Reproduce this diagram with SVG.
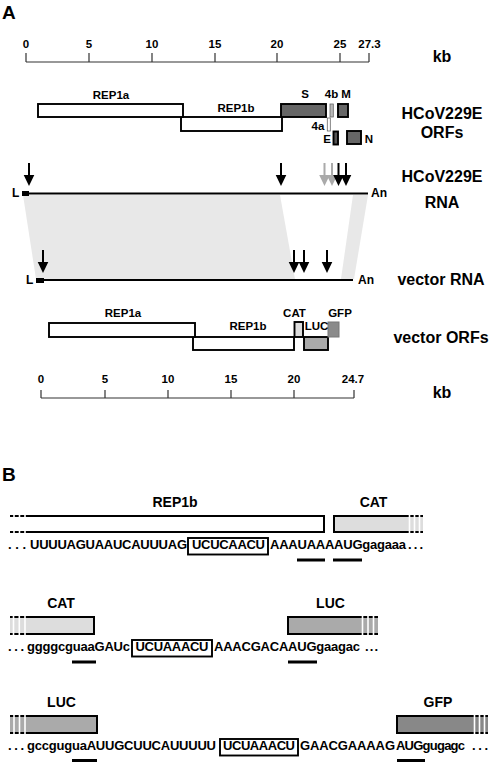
<svg xmlns="http://www.w3.org/2000/svg" width="490" height="762" viewBox="0 0 490 762">
<style>
text{font-family:"Liberation Sans",Arial,sans-serif;font-weight:bold;fill:#000}
.pl{font-size:19px}
.tk{font-size:11.5px;text-anchor:middle}
.side{font-size:16px;text-anchor:middle}
.orf{font-size:11.5px;text-anchor:middle}
.end{font-size:12px}
.bl{font-size:14px;text-anchor:middle}
.seq{font-size:13px}
.axis{stroke:#333;stroke-width:1.2;fill:none}
.box{stroke:#000;stroke-width:1.9}
.thin{stroke:#666;stroke-width:0.8}
.rna{stroke:#000;stroke-width:2;fill:none}
.shade{fill:#e8e8e8}
.bar{stroke:#000;stroke-width:2}
.gap{stroke:#fff;stroke-width:1.6}
.sbox{fill:none;stroke:#000;stroke-width:1.9}
</style>
<defs>
<path id="arr" d="M-1,-23 H1 V-11 H5.3 L0,0 L-5.3,-11 H-1 Z"/>
</defs>

<text class="pl" x="2" y="19">A</text>
<text class="pl" x="2" y="481">B</text>

<g id="scale-top">
<path class="axis" d="M26,62 H369 M26,53 V62 M89,53 V62 M152,53 V62 M215,53 V62 M277,53 V62 M340,53 V62 M369,53 V62"/>
<text class="tk" x="26" y="47.5">0</text>
<text class="tk" x="89" y="47.5">5</text>
<text class="tk" x="152" y="47.5">10</text>
<text class="tk" x="215" y="47.5">15</text>
<text class="tk" x="277" y="47.5">20</text>
<text class="tk" x="340" y="47.5">25</text>
<text class="tk" x="369.5" y="47.5">27.3</text>
<text class="side" x="442" y="62">kb</text>
</g>

<g id="hcov-orfs">
<rect class="box" x="181" y="117" width="101" height="14" fill="#fff"/>
<rect class="box" x="38" y="104" width="145" height="13" fill="#fff"/>
<rect class="box" x="281" y="104" width="45" height="13" fill="#666"/>
<rect class="thin" x="330" y="104" width="3.3" height="13" fill="#bbb"/>
<rect class="box" x="338" y="104" width="10" height="13" fill="#666"/>
<rect class="thin" x="327.3" y="118" width="3" height="13" fill="#fff"/>
<rect class="box" x="333.5" y="131.5" width="4.5" height="13" fill="#555"/>
<rect class="box" x="347" y="131" width="14" height="13" fill="#666"/>
<text class="orf" x="111" y="98.5">REP1a</text>
<text class="orf" x="236" y="111.5">REP1b</text>
<text class="orf" x="305" y="98">S</text>
<text class="orf" x="331.5" y="98">4b</text>
<text class="orf" x="346" y="98">M</text>
<text class="orf" x="318" y="130">4a</text>
<text class="orf" x="327" y="143">E</text>
<text class="orf" x="369" y="143">N</text>
<text class="side" x="442" y="118.5">HCoV229E</text>
<text class="side" x="442" y="137.5">ORFs</text>
</g>

<g id="shading">
<polygon class="shade" points="23,195 280,195 295,279 36,279"/>
<polygon class="shade" points="353,195 368,195 354,279 341,279"/>
</g>

<g id="hcov-rna">
<path class="rna" d="M29,193.5 H368"/>
<rect x="22" y="191" width="7" height="5" fill="#000"/>
<text class="end" x="12" y="197">L</text>
<text class="end" x="371" y="197">An</text>
<use href="#arr" x="29" y="186" fill="#000"/>
<use href="#arr" x="281" y="186" fill="#000"/>
<use href="#arr" x="324.5" y="186" fill="#aaa"/>
<use href="#arr" x="332" y="186" fill="#aaa"/>
<use href="#arr" x="338.5" y="186" fill="#000"/>
<use href="#arr" x="346" y="186" fill="#000"/>
<text class="side" x="442" y="182">HCoV229E</text>
<text class="side" x="442" y="208">RNA</text>
</g>

<g id="vector-rna">
<path class="rna" d="M44,280 H353"/>
<rect x="36" y="278" width="8" height="5" fill="#000"/>
<text class="end" x="26" y="284">L</text>
<text class="end" x="358" y="284">An</text>
<use href="#arr" x="43" y="273" fill="#000"/>
<use href="#arr" x="294" y="273" fill="#000"/>
<use href="#arr" x="304" y="273" fill="#000"/>
<use href="#arr" x="327" y="273" fill="#000"/>
<text class="side" x="441" y="285">vector RNA</text>
</g>

<g id="vector-orfs">
<rect class="box" x="193" y="337" width="101" height="13" fill="#fff"/>
<rect class="box" x="49" y="323" width="146" height="14" fill="#fff"/>
<rect class="box" x="294.5" y="322" width="8.5" height="15" fill="#ddd"/>
<rect class="box" x="304" y="337" width="24" height="13" fill="#aaa"/>
<rect x="328" y="322" width="11" height="15" fill="#8a8a8a" stroke="#777" stroke-width="1"/>
<text class="orf" x="123" y="317">REP1a</text>
<text class="orf" x="248" y="330">REP1b</text>
<text class="orf" x="294.5" y="317">CAT</text>
<text class="orf" x="316.5" y="330">LUC</text>
<text class="orf" x="340" y="317">GFP</text>
<text class="side" x="441" y="343">vector ORFs</text>
</g>

<g id="scale-bottom">
<path class="axis" d="M41,398 H354 M41,390 V398 M105,390 V398 M168,390 V398 M231,390 V398 M294,390 V398 M354,390 V398"/>
<text class="tk" x="41" y="383">0</text>
<text class="tk" x="105" y="383">5</text>
<text class="tk" x="168" y="383">10</text>
<text class="tk" x="231" y="383">15</text>
<text class="tk" x="294" y="383">20</text>
<text class="tk" x="353" y="383">24.7</text>
<text class="side" x="442" y="398">kb</text>
</g>

<g id="row1">
<path class="bar" d="M10,516 H324 V532 H10" fill="#fff"/>
<path class="gap" d="M14,514 V534 M19.5,514 V534 M25,514 V534"/>
<path class="bar" d="M423,516 H334 V532 H423" fill="#ddd"/>
<path class="gap" d="M409.5,514 V534 M414.5,514 V534 M419.5,514 V534"/>
<text class="bl" x="175" y="507">REP1b</text>
<text class="bl" x="373.5" y="507">CAT</text>
<text class="seq" x="8" y="549" textLength="18">...</text>
<text class="seq" x="30" y="549" textLength="157">UUUUAGUAAUCAUUUAG</text>
<rect class="sbox" x="188" y="538" width="80" height="16.5"/>
<text class="seq" x="192" y="549" textLength="73">UCUCAACU</text>
<text class="seq" x="270" y="549" textLength="136">AAAUAAAAUGgagaaa</text>
<text class="seq" x="408" y="549" textLength="15">...</text>
<rect x="297" y="558.5" width="28" height="3" fill="#000"/>
<rect x="333" y="558.5" width="29" height="3" fill="#000"/>
</g>

<g id="row2">
<path class="bar" d="M10,617 H94 V634 H10" fill="#ddd"/>
<path class="gap" d="M13.5,615 V636 M19.3,615 V636 M25,615 V636"/>
<path class="bar" d="M378,617 H288 V634 H378" fill="#aaa"/>
<path class="gap" d="M362.5,615 V636 M368,615 V636 M373.5,615 V636"/>
<text class="bl" x="61" y="608">CAT</text>
<text class="bl" x="330.5" y="608">LUC</text>
<text class="seq" x="8" y="651" textLength="16">...</text>
<text class="seq" x="27" y="651" textLength="103">ggggcguaaGAUc</text>
<rect class="sbox" x="132" y="640" width="80" height="16.5"/>
<text class="seq" x="135.5" y="651" textLength="73">UCUAAACU</text>
<text class="seq" x="214" y="651" textLength="146">AAACGACAAUGgaagac</text>
<text class="seq" x="365" y="651" textLength="13">...</text>
<rect x="72" y="660.5" width="24" height="3" fill="#000"/>
<rect x="288" y="660.5" width="29" height="3" fill="#000"/>
</g>

<g id="row3">
<path class="bar" d="M10,716 H97 V733 H10" fill="#aaa"/>
<path class="gap" d="M14,714 V735 M19.5,714 V735 M25,714 V735"/>
<path class="bar" d="M488,716 H397 V733 H488" fill="#888"/>
<path class="gap" d="M474.5,714 V735 M479.5,714 V735 M484.5,714 V735"/>
<text class="bl" x="61.5" y="707">LUC</text>
<text class="bl" x="438" y="707">GFP</text>
<text class="seq" x="8" y="750" textLength="16">...</text>
<text class="seq" x="27" y="750" textLength="189">gccguguaAUUGCUUCAUUUUU</text>
<rect class="sbox" x="220" y="739" width="78" height="16.5"/>
<text class="seq" x="223" y="750" textLength="72">UCUAAACU</text>
<text class="seq" x="300" y="750" textLength="95">GAACGAAAAG</text>
<text class="seq" x="396" y="750" textLength="69">AUGgugagc</text>
<text class="seq" x="472" y="750" textLength="16">...</text>
<rect x="72" y="759" width="25" height="3" fill="#000"/>
<rect x="397" y="759" width="28" height="3" fill="#000"/>
</g>
</svg>
